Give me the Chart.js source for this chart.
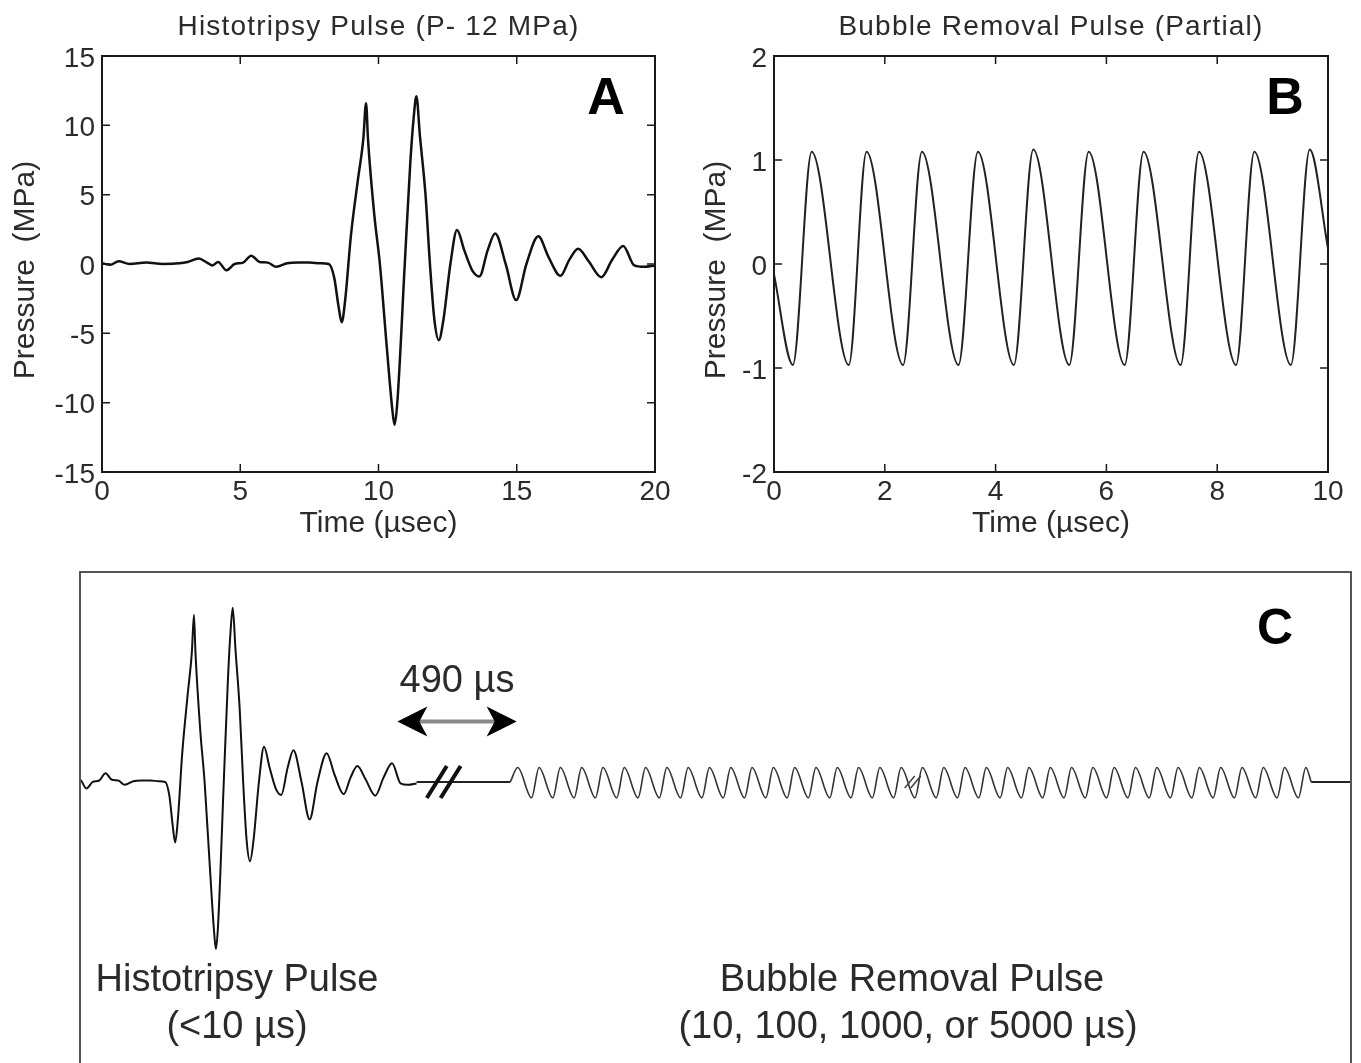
<!DOCTYPE html>
<html>
<head>
<meta charset="utf-8">
<script src="https://cdn.jsdelivr.net/npm/chart.js@4.4.1/dist/chart.umd.min.js"></script>
<style>
  html, body { margin: 0; padding: 0; background: #fff; overflow: hidden; }
  body { width: 1361px; height: 1063px; position: relative; }
  canvas { position: absolute; }
  #chartA { left: 0; top: 0; }
  #chartB { left: 680px; top: 0; }
  #chartC { left: 0; top: 560px; }
</style>
</head>
<body>
<canvas id="chartA" width="680" height="560"></canvas>
<canvas id="chartB" width="681" height="560"></canvas>
<canvas id="chartC" width="1361" height="520"></canvas>
<script>
// Panel A: histotripsy pulse, time in usec, pressure in MPa
const histoTime = [0, 0.3, 0.6, 1.0, 1.6, 2.2, 2.8, 3.1, 3.5, 3.8, 4.0, 4.2, 4.5, 4.8, 5.1, 5.4, 5.7, 6.0, 6.3, 6.7,
  7.1, 7.5, 7.9, 8.2, 8.4, 8.55, 8.67, 8.8, 9.0, 9.25, 9.45, 9.55, 9.62, 9.85, 10.05, 10.3, 10.5, 10.58, 10.68, 10.95,
  11.15, 11.27, 11.37, 11.5, 11.7, 11.86, 12.02, 12.18, 12.35, 12.6, 12.84, 13.1, 13.4, 13.65, 13.95, 14.22, 14.6, 14.98, 15.35, 15.78,
  16.15, 16.58, 16.9, 17.22, 17.6, 18.06, 18.45, 18.85, 19.25, 19.6, 20];
const histoPressure = [0.05, -0.05, 0.2, 0.0, 0.1, 0.0, 0.05, 0.15, 0.4, 0.1, -0.1, 0.15, -0.45, 0.0, 0.1, 0.6, 0.15, 0.1, -0.2, 0.05,
  0.1, 0.1, 0.05, 0.0, -1.0, -3.0, -4.2, -2.5, 2.0, 6.0, 9.0, 11.6, 9.0, 3.5, 0.0, -6.0, -10.5, -11.6, -10.0, 0.0,
  7.3, 10.5, 12.1, 9.2, 5.0, 0.0, -4.0, -5.5, -4.0, 0.0, 2.45, 1.0, -0.5, -0.9, 1.0, 2.2, 0.0, -2.6, 0.0, 2.0,
  0.5, -0.85, 0.3, 1.1, 0.2, -0.95, 0.3, 1.3, -0.1, -0.2, -0.1];

// Panel B: bubble removal pulse (partial)
const bubbleTime = [0, 0.34, 0.68, 1.35, 1.67, 2.33, 2.67, 3.33, 3.68, 4.33, 4.68, 5.33, 5.68, 6.33, 6.67, 7.34, 7.67, 8.34, 8.67, 9.33, 9.67, 10];
const bubblePressure = [-0.1, -0.97, 1.08, -0.97, 1.08, -0.97, 1.08, -0.97, 1.08, -0.97, 1.1, -0.97, 1.08, -0.97, 1.08, -0.97, 1.08, -0.97, 1.08, -0.97, 1.1, 0.15];

// Panel C: schematic sequence (same time/pressure units, time axis broken)
const gapTime = [20, 24.4];
const gapPressure = [0, 0];
const trainTime = [24.4, 24.75,
  25.4, 25.75, 26.4, 26.75, 27.4, 27.75, 28.4, 28.75, 29.4, 29.75, 30.4, 30.75, 31.4, 31.75, 32.4, 32.75, 33.4, 33.75, 34.4, 34.75,
  35.4, 35.75, 36.4, 36.75, 37.4, 37.75, 38.4, 38.75, 39.4, 39.75, 40.4, 40.75, 41.4, 41.75, 42.4, 42.75, 43.4, 43.75, 44.4, 44.75,
  45.4, 45.75, 46.4, 46.75, 47.4, 47.75, 48.4, 48.75, 49.4, 49.75, 50.4, 50.75, 51.4, 51.75, 52.4, 52.75, 53.4, 53.75, 54.4, 54.75,
  55.4, 55.75, 56.4, 56.75, 57.4, 57.75, 58.4, 58.75, 59.4, 59.75, 60.4, 60.75, 61.4, 61.75, 62.0];
const trainPressure = [0, 1.0,
  -1.1, 1.0, -1.1, 1.0, -1.1, 1.0, -1.1, 1.0, -1.1, 1.0, -1.1, 1.0, -1.1, 1.0, -1.1, 1.0, -1.1, 1.0, -1.1, 1.0,
  -1.1, 1.0, -1.1, 1.0, -1.1, 1.0, -1.1, 1.0, -1.1, 1.0, -1.1, 1.0, -1.1, 1.0, -1.1, 1.0, -1.1, 1.0, -1.1, 1.0,
  -1.1, 1.0, -1.1, 1.0, -1.1, 1.0, -1.1, 1.0, -1.1, 1.0, -1.1, 1.0, -1.1, 1.0, -1.1, 1.0, -1.1, 1.0, -1.1, 1.0,
  -1.1, 1.0, -1.1, 1.0, -1.1, 1.0, -1.1, 1.0, -1.1, 1.0, -1.1, 1.0, -1.1, 1.0, 0];
const tailTime = [62.0, 64];
const tailPressure = [0, 0];

const gapBreaks = [20.95, 21.6];   // "//" on the gap line
const trainBreak = 43.2;           // break mark inside the pulse train
const gapArrow = { from: 19.1, to: 24.7, level: 4.2 };

const FONT = "'Liberation Sans', Arial, sans-serif";
const TEXT = '#2b2b2b';

const toPoints = (xs, ys) => xs.map((x, i) => ({ x, y: ys[i] }));

// MATLAB-like box with inward ticks and panel texts
const matlabFrame = {
  id: 'matlabFrame',
  afterDatasetsDraw(chart, args, o) {
    const { ctx, chartArea: a, scales: { x, y } } = chart;
    ctx.save();
    ctx.strokeStyle = '#1a1a1a';
    ctx.lineWidth = 2;
    ctx.strokeRect(a.left, a.top, a.right - a.left, a.bottom - a.top);
    ctx.lineWidth = 1.5;
    const len = 8;
    ctx.beginPath();
    x.ticks.forEach(t => {
      const px = x.getPixelForValue(t.value);
      ctx.moveTo(px, a.bottom); ctx.lineTo(px, a.bottom - len);
      ctx.moveTo(px, a.top); ctx.lineTo(px, a.top + len);
    });
    y.ticks.forEach(t => {
      const py = y.getPixelForValue(t.value);
      ctx.moveTo(a.left, py); ctx.lineTo(a.left + len, py);
      ctx.moveTo(a.right, py); ctx.lineTo(a.right - len, py);
    });
    ctx.stroke();

    ctx.fillStyle = TEXT;
    ctx.textAlign = 'center';
    ctx.textBaseline = 'middle';
    const cx = (a.left + a.right) / 2;
    ctx.font = '28px ' + FONT;
    ctx.letterSpacing = '1.2px';
    ctx.fillText(o.title, cx, 27);
    ctx.letterSpacing = '0px';
    ctx.font = '30px ' + FONT;
    ctx.fillText(o.xLabel, cx, 524);
    ctx.save();
    ctx.translate(o.yLabelX, (a.top + a.bottom) / 2 + 6);
    ctx.rotate(-Math.PI / 2);
    ctx.fillText(o.yLabel, 0, 0);
    ctx.restore();
    ctx.fillStyle = '#000';
    ctx.font = 'bold 52px ' + FONT;
    ctx.fillText(o.letter, a.right - o.letterInset, a.top + 44);
    ctx.restore();
  }
};

function axisOptions(min, max, step, fitSize, isX) {
  return {
    type: 'linear', min, max,
    ticks: { stepSize: step, color: TEXT, font: { family: FONT, size: 28 }, padding: isX ? 3 : 7, labelOffset: isX ? 0 : 3 },
    grid: { display: false, drawTicks: false },
    border: { display: false },
    afterFit: s => { if (isX) s.height = fitSize; else s.width = fitSize; }
  };
}

new Chart(document.getElementById('chartA'), {
  type: 'line',
  data: { datasets: [{ data: toPoints(histoTime, histoPressure), borderColor: '#111', borderWidth: 2.5, pointRadius: 0, cubicInterpolationMode: 'monotone' }] },
  options: {
    responsive: false, animation: false,
    layout: { padding: { left: 0, right: 25, top: 56, bottom: 0 } },
    plugins: {
      legend: { display: false }, tooltip: { enabled: false },
      matlabFrame: { title: 'Histotripsy Pulse (P- 12 MPa)', xLabel: 'Time (\u00b5sec)', yLabel: 'Pressure  (MPa)', yLabelX: 26, letter: 'A', letterInset: 49 }
    },
    scales: { x: axisOptions(0, 20, 5, 88, true), y: axisOptions(-15, 15, 5, 102, false) }
  },
  plugins: [matlabFrame]
});

new Chart(document.getElementById('chartB'), {
  type: 'line',
  data: { datasets: [{ data: toPoints(bubbleTime, bubblePressure), borderColor: '#222', borderWidth: 2, pointRadius: 0, cubicInterpolationMode: 'monotone' }] },
  options: {
    responsive: false, animation: false,
    layout: { padding: { left: 0, right: 33, top: 56, bottom: 0 } },
    plugins: {
      legend: { display: false }, tooltip: { enabled: false },
      matlabFrame: { title: 'Bubble Removal Pulse (Partial)', xLabel: 'Time (\u00b5sec)', yLabel: 'Pressure  (MPa)', yLabelX: 37, letter: 'B', letterInset: 43 }
    },
    scales: { x: axisOptions(0, 10, 2, 88, true), y: axisOptions(-2, 2, 1, 94, false) }
  },
  plugins: [matlabFrame]
});

// Panel C decorations: open box, break marks, arrow, captions
const schematic = {
  id: 'schematic',
  afterDatasetsDraw(chart) {
    const { ctx, chartArea: a, scales: { x, y } } = chart;
    ctx.save();
    ctx.lineWidth = 2;
    ctx.strokeStyle = '#555';
    ctx.beginPath();
    ctx.moveTo(a.left, a.bottom + 10); ctx.lineTo(a.left, a.top); ctx.lineTo(a.right, a.top); ctx.lineTo(a.right, a.bottom + 10);
    ctx.stroke();

    const y0 = y.getPixelForValue(0);
    ctx.strokeStyle = '#111';
    ctx.lineWidth = 4;
    ctx.beginPath();
    gapBreaks.forEach(t => {
      const px = x.getPixelForValue(t);
      ctx.moveTo(px - 10, y0 + 16); ctx.lineTo(px + 10, y0 - 16);
    });
    ctx.stroke();
    ctx.lineWidth = 1.5;
    ctx.strokeStyle = '#444';
    ctx.beginPath();
    const bx = x.getPixelForValue(trainBreak);
    ctx.moveTo(bx - 6, y0 + 6); ctx.lineTo(bx + 4, y0 - 6);
    ctx.moveTo(bx, y0 + 6); ctx.lineTo(bx + 10, y0 - 6);
    ctx.stroke();

    // double arrow across the gap
    const ax1 = x.getPixelForValue(gapArrow.from), ax2 = x.getPixelForValue(gapArrow.to), ay = y.getPixelForValue(gapArrow.level);
    ctx.strokeStyle = '#8a8a8a';
    ctx.lineWidth = 4;
    ctx.beginPath(); ctx.moveTo(ax1 + 20, ay); ctx.lineTo(ax2 - 20, ay); ctx.stroke();
    ctx.fillStyle = '#000';
    [[ax1, 1], [ax2, -1]].forEach(([px, d]) => {
      ctx.beginPath();
      ctx.moveTo(px, ay);
      ctx.lineTo(px + d * 30, ay - 15);
      ctx.lineTo(px + d * 22, ay);
      ctx.lineTo(px + d * 30, ay + 15);
      ctx.closePath();
      ctx.fill();
    });

    ctx.fillStyle = TEXT;
    ctx.textAlign = 'center';
    ctx.textBaseline = 'middle';
    ctx.font = '38px ' + FONT;
    ctx.fillText('490 \u00b5s', (ax1 + ax2) / 2, ay - 40);
    ctx.fillText('Histotripsy Pulse', 237, 421);
    ctx.fillText('(<10 \u00b5s)', 237, 468);
    ctx.fillText('Bubble Removal Pulse', 912, 421);
    ctx.fillText('(10, 100, 1000, or 5000 \u00b5s)', 908, 468);
    ctx.fillStyle = '#000';
    ctx.font = 'bold 50px ' + FONT;
    ctx.fillText('C', a.right - 76, a.top + 58);
    ctx.restore();
  }
};

new Chart(document.getElementById('chartC'), {
  type: 'line',
  data: {
    datasets: [
      { data: toPoints(histoTime, histoPressure), borderColor: '#111', borderWidth: 2, pointRadius: 0, cubicInterpolationMode: 'monotone' },
      { data: toPoints(gapTime, gapPressure), borderColor: '#222', borderWidth: 2, pointRadius: 0 },
      { data: toPoints(trainTime, trainPressure), borderColor: '#333', borderWidth: 1.6, pointRadius: 0, cubicInterpolationMode: 'monotone' },
      { data: toPoints(tailTime, tailPressure), borderColor: '#222', borderWidth: 2, pointRadius: 0 }
    ]
  },
  options: {
    responsive: false, animation: false,
    layout: { padding: { left: 80, right: 10, top: 12, bottom: 5 } },
    plugins: { legend: { display: false }, tooltip: { enabled: false } },
    scales: {
      x: { type: 'linear', display: false, min: 4.2, max: 63.87 },
      y: { type: 'linear', display: false, min: -20.35, max: 14.58 }
    }
  },
  plugins: [schematic]
});
</script>
</body>
</html>
